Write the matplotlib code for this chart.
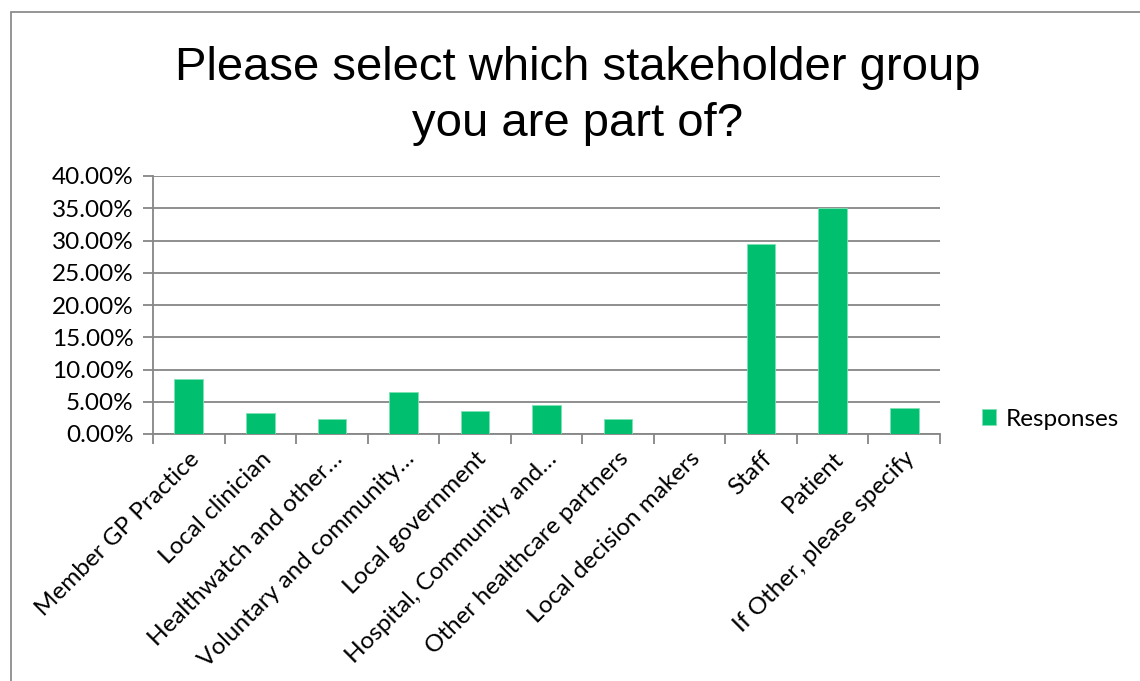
import matplotlib
matplotlib.use("Agg")
import matplotlib.pyplot as plt
from matplotlib.patches import Rectangle
from matplotlib.ticker import FixedLocator, PercentFormatter

categories = [
    "Member GP Practice",
    "Local clinician",
    "Healthwatch and other\u2026",
    "Voluntary and community\u2026",
    "Local government",
    "Hospital, Community and\u2026",
    "Other healthcare partners",
    "Local decision makers",
    "Staff",
    "Patient",
    "If Other, please specify",
]
responses = [8.48, 3.2, 2.33, 6.47, 3.57, 4.45, 2.33, 0.0, 29.4, 35.1, 3.98]
y_ticks = [0, 5, 10, 15, 20, 25, 30, 35, 40]
title = "Please select which stakeholder group\nyou are part of?"
series_name = "Responses"

W, H = 1140, 681
fig = plt.figure(figsize=(W / 100, H / 100), dpi=100)
fig.patch.set_facecolor("white")

# outer chart border (runs off the right and bottom edges)
fig.add_artist(Rectangle((11 / W, -10 / H), (W + 20) / W, (H - 2) / H,
                         transform=fig.transFigure, fill=False,
                         edgecolor="#8c8c8c", linewidth=1.3))

left, right, top, bottom = 153, 940, 176, 434
ax = fig.add_axes([left / W, 1 - bottom / H, (right - left) / W, (bottom - top) / H])

bar_color = "#00BF6F"
x = list(range(len(categories)))
bars = ax.bar(x, responses, width=0.4, color=bar_color, edgecolor="#7fe0b5",
              linewidth=0.6, zorder=3, label=series_name)

ax.set_xlim(-0.5, len(categories) - 0.5)
ax.set_ylim(0, 40)
ax.yaxis.set_major_locator(FixedLocator(y_ticks))
ax.yaxis.set_major_formatter(PercentFormatter(decimals=2))
ax.grid(axis="y", color="#868686", linewidth=1.3, zorder=0)

for side in ("top", "right"):
    ax.spines[side].set_visible(False)
for side in ("left", "bottom"):
    ax.spines[side].set_color("#868686")
    ax.spines[side].set_linewidth(1.3)

tick_font = "Lato"
ax.tick_params(axis="y", length=7, width=1.3, color="#868686", direction="out",
               labelsize=17.5, pad=7)
for lbl in ax.get_yticklabels():
    lbl.set_fontfamily(tick_font)

# category ticks sit at boundaries; labels at bar centres
ax.set_xticks([i - 0.5 for i in range(len(categories) + 1)])
ax.set_xticklabels([])
ax.tick_params(axis="x", length=7, width=1.3, color="#868686", direction="out")
ax.set_xticks(x, minor=True)
ax.set_xticklabels(categories, minor=True, rotation=45, ha="right",
                   rotation_mode="anchor", fontsize=17.5, fontfamily=tick_font)
ax.tick_params(axis="x", which="minor", length=0, pad=10)

fig.text(578 / W, 1 - 96 / H, title, ha="center", va="center",
         fontsize=34, fontfamily="Liberation Sans", linespacing=1.36)

leg = fig.legend(handles=[bars], labels=[series_name], loc="center left",
                 bbox_to_anchor=(960 / W, 1 - 419 / H), frameon=False,
                 prop={"family": tick_font, "size": 17.5}, handlelength=0.6,
                 handleheight=0.6, handletextpad=0.4)

fig.savefig("out.png", dpi=100)
